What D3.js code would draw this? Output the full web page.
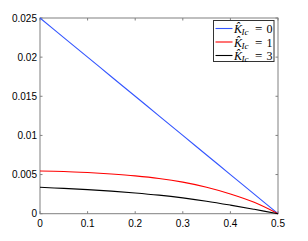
<!DOCTYPE html>
<html><head><meta charset="utf-8">
<script src="https://cdn.jsdelivr.net/npm/d3@7/dist/d3.min.js"></script>
<style>body{margin:0;background:#fff}svg{display:block}</style>
</head><body>
<svg id="c" width="308" height="241"></svg>
<script>
const xs = [0, 0.05, 0.1, 0.15, 0.2, 0.25, 0.3, 0.35, 0.4, 0.45, 0.5];
const k0 = [0.025, 0.0225, 0.02, 0.0175, 0.015, 0.0125, 0.01, 0.0075, 0.005, 0.0025, 0];
const k1 = [0.00545, 0.0054, 0.00526, 0.00507, 0.00483, 0.0045, 0.00403, 0.00338, 0.00252, 0.00145, 0];
const k3 = [0.00337, 0.00323, 0.00307, 0.00288, 0.00265, 0.00237, 0.00202, 0.0016, 0.0011, 0.00056, 0];
const seriesNames = ["0", "1", "3"];
const colors = ["#3355ff", "#ff0000", "#000000"];
const xTicks = [0, 0.1, 0.2, 0.3, 0.4, 0.5];
const yTicks = [0, 0.005, 0.01, 0.015, 0.02, 0.025];
const yTickLabels = ["0", "0.005", "0.01", "0.015", "0.02", "0.025"];

const L = 40, R = 278, T = 18, B = 213.7;
const svg = d3.select("#c");
const x = d3.scaleLinear().domain([0, 0.5]).range([L, R]);
const y = d3.scaleLinear().domain([0, 0.025]).range([B, T]);
const axisColor = "#808080";
const font = "Liberation Sans, Arial, sans-serif";

svg.append("rect").attr("x", L).attr("y", T).attr("width", R - L).attr("height", B - T)
  .attr("fill", "none").attr("stroke", axisColor).attr("stroke-width", 1);

const g = svg.append("g");
xTicks.forEach(t => {
  g.append("line").attr("x1", x(t)).attr("x2", x(t)).attr("y1", B).attr("y2", B - 2.5).attr("stroke", axisColor);
  g.append("line").attr("x1", x(t)).attr("x2", x(t)).attr("y1", T).attr("y2", T + 2.5).attr("stroke", axisColor);
  g.append("text").attr("x", x(t)).attr("y", B + 13).attr("text-anchor", "middle")
    .attr("font-family", font).attr("font-size", 10).attr("fill", "#000").text(String(t));
});
yTicks.forEach((t, i) => {
  g.append("line").attr("x1", L).attr("x2", L + 2.5).attr("y1", y(t)).attr("y2", y(t)).attr("stroke", axisColor);
  g.append("line").attr("x1", R).attr("x2", R - 2.5).attr("y1", y(t)).attr("y2", y(t)).attr("stroke", axisColor);
  g.append("text").attr("x", L - 3).attr("y", y(t) + 3.5).attr("text-anchor", "end")
    .attr("font-family", font).attr("font-size", 10).attr("fill", "#000").text(yTickLabels[i]);
});

const line = d3.line().x(d => x(d[0])).y(d => y(d[1])).curve(d3.curveCatmullRom.alpha(0.5));
[k0, k1, k3].forEach((s, i) => {
  svg.append("path").datum(xs.map((v, j) => [v, s[j]]))
    .attr("d", line).attr("fill", "none").attr("stroke", colors[i]).attr("stroke-width", 1.1);
});

// legend
const lg = svg.append("g");
lg.append("rect").attr("x", 213.5).attr("y", 20.5).attr("width", 60.5).attr("height", 41)
  .attr("fill", "#fff").attr("stroke", "#333").attr("stroke-width", 1);
const rowY = [28.5, 42, 55.5];
const serif = "Liberation Serif, DejaVu Serif, serif";
seriesNames.forEach((n, i) => {
  const by = rowY[i] + 4.5;
  lg.append("line").attr("x1", 215.5).attr("x2", 232.5).attr("y1", rowY[i]).attr("y2", rowY[i])
    .attr("stroke", colors[i]).attr("stroke-width", 1.1);
  lg.append("text").attr("x", 234).attr("y", by).attr("font-family", serif)
    .attr("font-style", "italic").attr("font-size", 12).text("K\u0302");
  lg.append("text").attr("x", 241.5).attr("y", by + 2).attr("font-family", serif)
    .attr("font-style", "italic").attr("font-size", 9).text("Ic");
  lg.append("text").attr("x", 255).attr("y", by).attr("font-family", serif)
    .attr("font-size", 13).text("=");
  lg.append("text").attr("x", 266.5).attr("y", by).attr("font-family", serif)
    .attr("font-size", 12).text(n);
});
</script>
</body></html>
